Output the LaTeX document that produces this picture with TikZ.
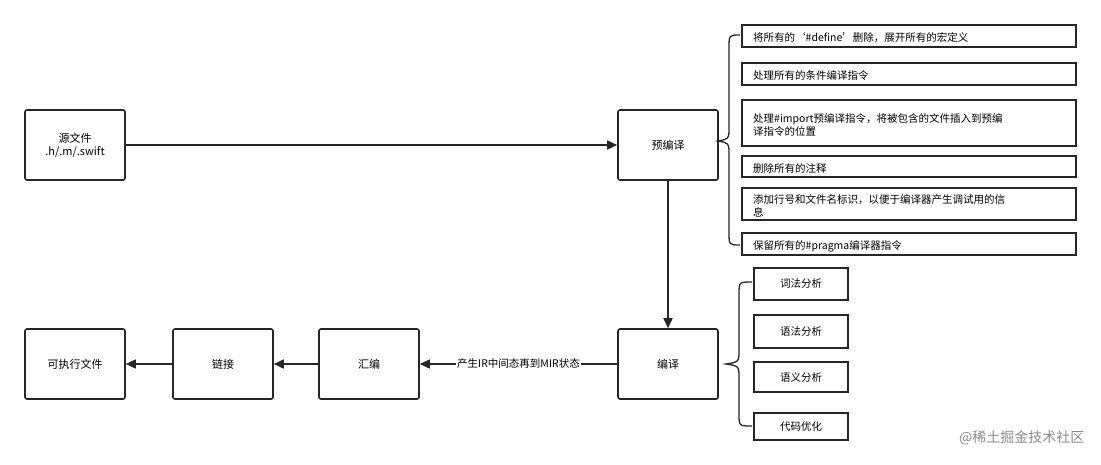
\documentclass[tikz,border=0pt]{standalone}
\usepackage{fontspec}
\setmainfont{Noto Sans CJK SC}
\usetikzlibrary{arrows.meta}
\begin{document}
\begin{tikzpicture}[x=1pt,y=-1pt,
 box/.style={draw=black!85,line width=1.6pt,rounded corners=2pt,minimum width=100pt,minimum height=70pt,font=\fontsize{11}{13}\selectfont,align=center},
 item/.style={draw=black!85,line width=1.6pt,anchor=north west,font=\fontsize{10.5}{13}\selectfont,align=left,inner sep=0pt},
 sub/.style={draw=black!85,line width=1.6pt,minimum width=94pt,font=\fontsize{10.5}{13}\selectfont,inner sep=0pt},
 arr/.style={line width=1.6pt,draw=black!85,-{Triangle[length=10pt,width=9pt]}},
 br/.style={line width=1.3pt,draw=black!85}]
\useasboundingbox (0,0) rectangle (1101,464);
\node[box] (src) at (75,145) {源文件\\.h/.m/.swift};
\node[box] (pre) at (668,145) {预编译};
\node[box] (cmp) at (668,364) {编译};
\node[box] (asm) at (369,364) {汇编};
\node[box] (lnk) at (223,364) {链接};
\node[box] (exe) at (75,364) {可执行文件};
\draw[arr] (src) -- (pre);
\draw[arr] (pre) -- (cmp);
\draw[arr] (cmp) -- node[fill=white,inner sep=1pt,font=\fontsize{10.5}{13}\selectfont]{产生IR中间态再到MIR状态} (asm);
\draw[arr] (asm) -- (lnk);
\draw[arr] (lnk) -- (exe);
% items
\foreach \n/\y/\h/\t in {i1/25/22/{将所有的‘\#define’删除，展开所有的宏定义},i2/63/22/{处理所有的条件编译指令},i3/100/46/{处理\#import预编译指令，将被包含的文件插入到预编\\译指令的位置},i4/156/21/{删除所有的注释},i5/188/32/{添加行号和文件名标识，以便于编译器产生调试用的信\\息},i6/233/22/{保留所有的\#pragma编译器指令}}{
 \draw[draw=black!85,line width=1.6pt] (742,\y) rectangle (1076,\y+\h);
 \node[anchor=west,font=\fontsize{10.5}{13}\selectfont,align=left,inner sep=0pt] (\n) at (753,\y+\h/2+2) {\t};
}
\draw[br] (740,35) .. controls (729,35) .. (729,48) -- (729,128) .. controls (729,139) .. (718,141) .. controls (729,143) .. (729,154) -- (729,232) .. controls (729,245) .. (740,245);
\foreach \n/\y/\h/\t in {s1/268/32/词法分析,s2/315/33/语法分析,s3/362/30/语义分析,s4/413/27/代码优化}{
 \node[sub,minimum height=\h pt] (\n) at (801,\y+\h/2) {\t};
}
\draw[br] (752,282) .. controls (739,282) .. (739,294) -- (739,350) .. controls (739,362) .. (726,364) .. controls (739,366) .. (739,378) -- (739,414) .. controls (739,426) .. (752,426);
\node[text=black!45,font=\fontsize{14}{16}\selectfont,anchor=east] (wm) at (1088,438) {@稀土掘金技术社区};
\end{tikzpicture}
\end{document}
